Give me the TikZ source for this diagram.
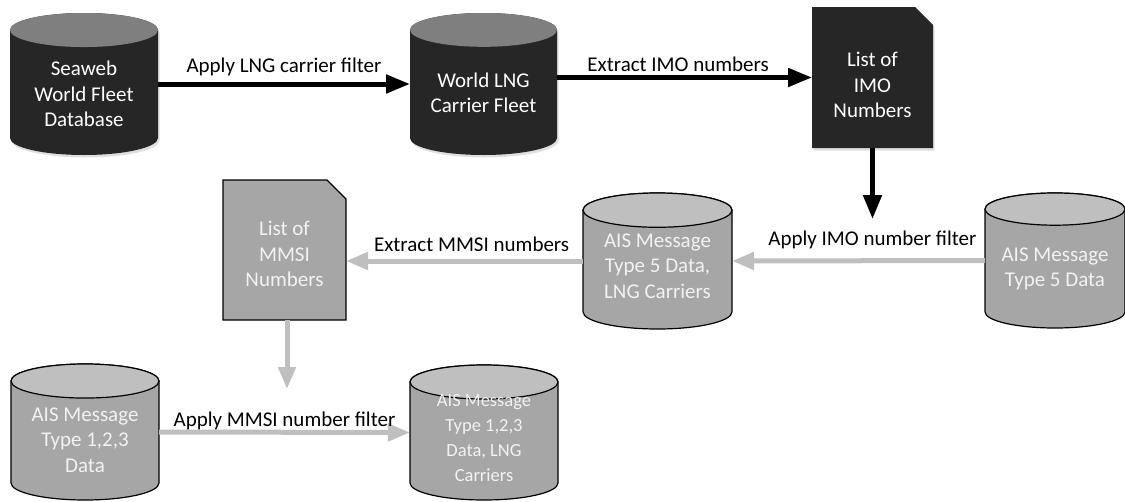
\documentclass[tikz,border=0pt]{standalone}
\usepackage{fontspec}
\setmainfont{Carlito}
\usetikzlibrary{arrows.meta,shadows,calc,backgrounds}

\definecolor{darkfill}{HTML}{262626}
\definecolor{darktop}{HTML}{7F7F7F}
\definecolor{greyfill}{HTML}{A6A6A6}
\definecolor{greytop}{HTML}{BFBFBF}
\definecolor{greyline}{HTML}{BFBFBF}
\definecolor{greytext}{HTML}{F2F2F2}

% database drum behind a named node: #1 node, #2 body style, #3 end style
\newcommand{\drum}[3]{%
  \begin{scope}[on background layer]
    \path[#2] let \p1=(#1.north west), \p2=(#1.south east),
        \n1={(\x2-\x1)/2}, \n2={0.23*\n1} in
      (\x1,\y1-\n2) -- (\x1,\y2+\n2)
      arc[start angle=180, end angle=360, x radius=\n1, y radius=\n2]
      -- (\x2,\y1-\n2)
      arc[start angle=0, end angle=180, x radius=\n1, y radius=\n2] -- cycle;
    \path[#3] let \p1=(#1.north), \p2=(#1.east),
        \n1={\x2-\x1}, \n2={0.23*\n1} in
      (\x1,\y1-\n2) ellipse[x radius=\n1, y radius=\n2];
  \end{scope}}

% sheet with a cut corner behind a named node: #1 node, #2 style, #3 cut
\newcommand{\sheet}[3]{%
  \begin{scope}[on background layer]
    \path[#2] (#1.south west) -- (#1.north west) -- ([xshift=-#3]#1.north east)
      -- ([yshift=-#3]#1.north east) -- (#1.south east) -- cycle;
  \end{scope}}

\tikzset{
  dbbox/.style={rectangle, inner sep=0pt, outer sep=0pt},
  shapetext/.style={align=center, inner sep=0pt, font=\fontsize{21}{25.5}\selectfont},
  darktext/.style={shapetext, text=white},
  greytext/.style={shapetext, text=greytext},
  darkbody/.style={fill=darkfill, drop shadow={opacity=0.25, shadow xshift=1.5pt, shadow yshift=-2.5pt}},
  darkend/.style={fill=darktop},
  greybody/.style={fill=greyfill, draw=black, line width=1.2pt},
  greyend/.style={fill=greytop, draw=black, line width=1.2pt},
  lbl/.style={font=\fontsize{21}{25}\selectfont, inner sep=0pt, anchor=base},
  blackarrow/.style={draw=black, line width=5pt, -{Triangle[length=24pt,width=18pt]}},
  greyarrow/.style={draw=greyline, line width=5pt, -{Triangle[length=22pt,width=17pt]}}
}

\begin{document}
\begin{tikzpicture}[x=1pt, y=-1pt]
  \useasboundingbox (0,0) rectangle (1125,501);

  % First row
  \node[dbbox, minimum width=148pt, minimum height=142pt] (seaweb) at (84,84) {};
  \node[dbbox, minimum width=147pt, minimum height=142pt] (lngfleet) at (483.5,84) {};
  \node[dbbox, minimum width=121pt, minimum height=141pt] (imolist) at (872.5,77.5) {};

  % Second row
  \node[dbbox, minimum width=140pt, minimum height=135pt] (ais5) at (1055,260.5) {};
  \node[dbbox, minimum width=149pt, minimum height=136pt] (ais5lng) at (657.5,261) {};
  \node[dbbox, minimum width=123pt, minimum height=140pt] (mmsilist) at (284.5,250) {};

  % Third row
  \node[dbbox, minimum width=148pt, minimum height=136pt] (ais123) at (85,432) {};
  \node[dbbox, minimum width=148pt, minimum height=135pt] (ais123lng) at (484,432.5) {};

  % Drums and sheets
  \drum{seaweb}{darkbody}{darkend}
  \drum{lngfleet}{darkbody}{darkend}
  \sheet{imolist}{darkbody}{18pt}
  \drum{ais5}{greybody}{greyend}
  \drum{ais5lng}{greybody}{greyend}
  \sheet{mmsilist}{greybody}{19pt}
  \drum{ais123}{greybody}{greyend}
  \drum{ais123lng}{greybody}{greyend}

  % Texts
  \node[darktext] (seawebtxt) at ([yshift=-10pt]seaweb.center) {Seaweb\\World Fleet\\Database};
  \node[darktext] (lngfleettxt) at ([yshift=-9pt]lngfleet.center) {World LNG\\Carrier Fleet};
  \node[darktext] (imolisttxt) at ([yshift=-7.5pt]imolist.center) {List of\\IMO\\Numbers};
  \node[greytext] (ais5txt) at ([yshift=-8.5pt]ais5.center) {AIS Message\\Type 5 Data};
  \node[greytext] (ais5lngtxt) at ([yshift=-5pt]ais5lng.center) {AIS Message\\Type 5 Data,\\LNG Carriers};
  \node[greytext] (mmsilisttxt) at ([yshift=-4pt]mmsilist.center) {List of\\MMSI\\Numbers};
  \node[greytext] (ais123txt) at ([yshift=-8pt]ais123.center) {AIS Message\\Type 1,2,3\\Data};
  \node[greytext, font=\fontsize{18.5}{25}\selectfont] (ais123lngtxt) at ([yshift=-5.5pt]ais123lng.center) {AIS Message\\Type 1,2,3\\Data, LNG\\Carriers};

  \coordinate (imodrop) at (872.5,219);
  \coordinate (mmsidrop) at (287,389);

  % Arrows
  \draw[blackarrow] (seaweb.east) -- (lngfleet.west) node[lbl, midway, yshift=12pt] {Apply LNG carrier filter};
  \draw[blackarrow] (imolist.west -| lngfleet.east) -- (imolist.west) node[lbl, pos=0.475, yshift=6pt] {Extract IMO numbers};
  \draw[blackarrow] (imolist.south) -- (imodrop);
  \draw[greyarrow] (ais5.west) -- (ais5lng.east) node[lbl, pos=0.445, yshift=15pt] {Apply IMO number filter};
  \draw[greyarrow] (ais5lng.west) -- (ais5lng.west -| mmsilist.east) node[lbl, pos=0.47, yshift=10pt] {Extract MMSI numbers};
  \draw[greyarrow] (mmsilist.south -| mmsidrop) -- (mmsidrop);
  \draw[greyarrow] (ais123.east) -- (ais123lng.west) node[lbl, midway, yshift=6pt] {Apply MMSI number filter};
\end{tikzpicture}
\end{document}
